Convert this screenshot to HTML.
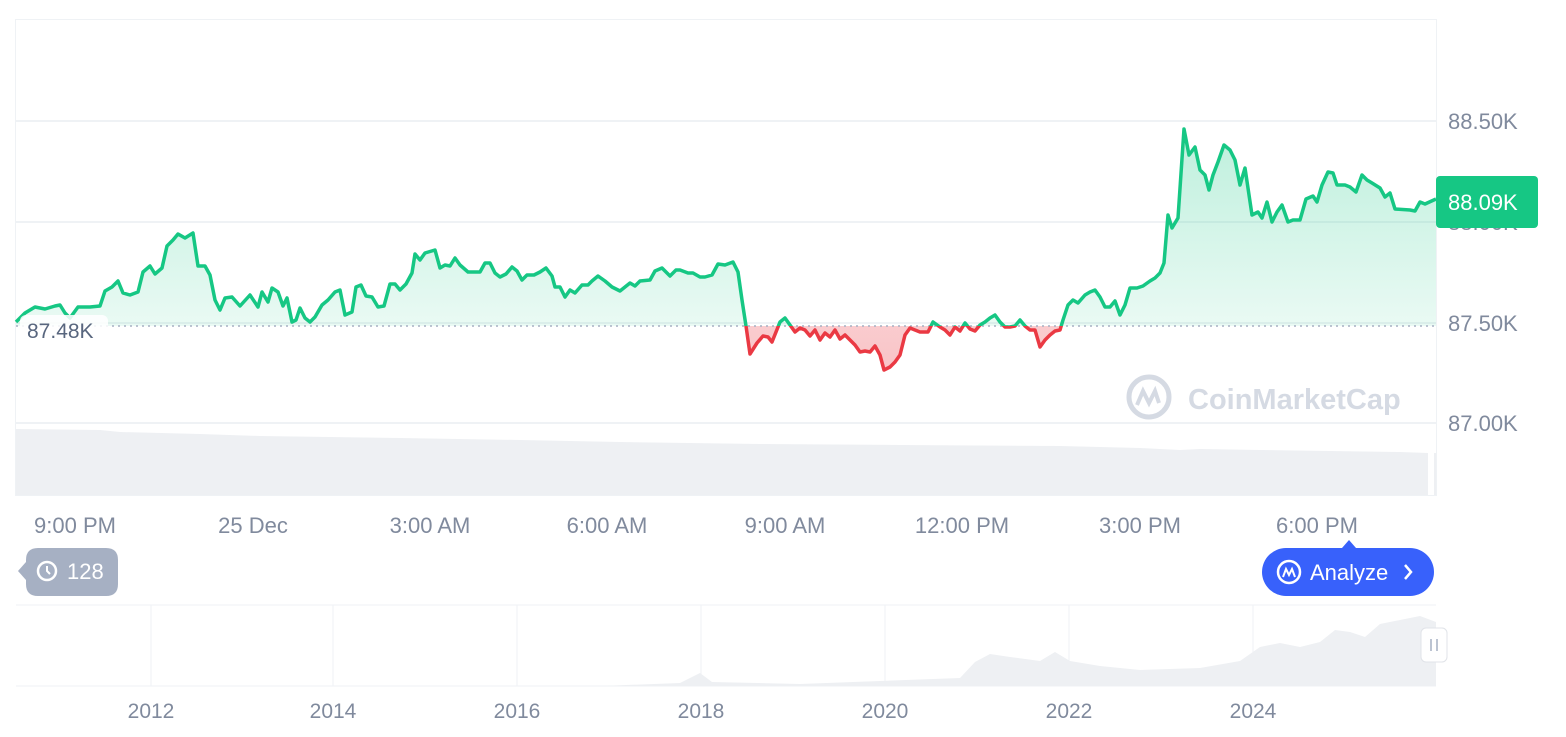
<!DOCTYPE html>
<html><head><meta charset="utf-8"><style>
body{margin:0;background:#fff;width:1566px;height:732px;overflow:hidden;font-family:"Liberation Sans",sans-serif}
</style></head><body>
<svg width="1566" height="732" xmlns="http://www.w3.org/2000/svg" font-family="Liberation Sans, sans-serif">
<defs>
<linearGradient id="gg" x1="0" y1="0" x2="0" y2="1"><stop offset="0" stop-color="#16c784" stop-opacity="0.28"/><stop offset="1" stop-color="#16c784" stop-opacity="0.05"/></linearGradient>
<linearGradient id="rg" x1="0" y1="0" x2="0" y2="1"><stop offset="0" stop-color="#ea3943" stop-opacity="0.08"/><stop offset="1" stop-color="#ea3943" stop-opacity="0.3"/></linearGradient>
<clipPath id="up"><rect x="0" y="0" width="1440" height="326"/></clipPath>
<clipPath id="dn"><rect x="0" y="326" width="1440" height="200"/></clipPath>
<path id="p" d="M16,322 L25,313 35,307 45,309 55,306 60,305 65,313 70,318 78,307 90,307 100,306 105,291 112,287 118,281 123,293 130,295 138,292 143,272 150,266 155,274 162,268 167,246 173,240 178,234 185,238 193,233 198,266 205,266 210,275 215,300 220,310 225,298 232,297 240,306 250,295 258,307 262,292 268,302 272,288 278,292 283,306 287,298 292,322 296,320 300,308 305,318 310,322 315,317 322,305 328,300 335,292 340,290 345,315 352,312 356,287 361,285 366,296 372,297 378,307 384,306 390,284 395,284 400,290 406,284 412,273 415,254 420,260 425,253 435,250 440,268 445,265 450,266 455,258 460,265 468,272 480,272 485,263 490,263 495,273 500,277 506,274 512,267 517,271 522,280 527,275 534,275 540,272 546,268 552,276 555,287 560,287 565,297 570,290 575,293 582,285 588,285 592,281 598,276 605,281 612,287 620,291 630,283 635,286 640,281 650,280 655,271 662,268 670,276 676,270 680,270 688,273 693,273 700,277 705,277 712,275 718,264 725,265 733,262 738,272 742,300 746,326 750,354 757,343 763,336 768,337 772,342 780,322 785,318 790,325 795,332 800,328 805,330 810,336 815,330 820,340 825,333 830,337 835,330 840,339 845,335 850,340 855,345 860,352 865,351 870,352 875,346 880,355 884,370 890,367 895,362 900,355 905,335 910,328 920,332 928,332 933,322 940,327 945,330 950,335 955,327 960,331 965,323 970,329 975,331 980,325 985,322 990,318 995,315 1000,322 1005,327 1010,327 1015,326 1020,320 1025,326 1030,330 1035,330 1040,347 1045,340 1050,335 1055,331 1060,330 1063,320 1068,305 1073,300 1078,303 1085,295 1090,292 1095,290 1100,297 1105,307 1110,307 1115,301 1120,315 1125,305 1130,288 1137,288 1143,286 1150,281 1155,278 1160,273 1164,263 1168,215 1172,228 1178,218 1184,129 1189,155 1195,147 1200,170 1205,175 1209,190 1213,175 1218,162 1224,145 1230,150 1235,160 1240,185 1245,168 1252,215 1258,212 1262,218 1267,202 1272,222 1277,212 1282,205 1288,222 1293,220 1300,220 1306,199 1313,196 1317,202 1322,185 1328,172 1333,173 1337,185 1345,185 1350,187 1356,192 1362,175 1367,180 1372,183 1380,188 1385,197 1390,193 1395,209 1410,210 1415,211 1420,202 1425,204 1436,199"/>
<path id="f" d="M16,322 L25,313 35,307 45,309 55,306 60,305 65,313 70,318 78,307 90,307 100,306 105,291 112,287 118,281 123,293 130,295 138,292 143,272 150,266 155,274 162,268 167,246 173,240 178,234 185,238 193,233 198,266 205,266 210,275 215,300 220,310 225,298 232,297 240,306 250,295 258,307 262,292 268,302 272,288 278,292 283,306 287,298 292,322 296,320 300,308 305,318 310,322 315,317 322,305 328,300 335,292 340,290 345,315 352,312 356,287 361,285 366,296 372,297 378,307 384,306 390,284 395,284 400,290 406,284 412,273 415,254 420,260 425,253 435,250 440,268 445,265 450,266 455,258 460,265 468,272 480,272 485,263 490,263 495,273 500,277 506,274 512,267 517,271 522,280 527,275 534,275 540,272 546,268 552,276 555,287 560,287 565,297 570,290 575,293 582,285 588,285 592,281 598,276 605,281 612,287 620,291 630,283 635,286 640,281 650,280 655,271 662,268 670,276 676,270 680,270 688,273 693,273 700,277 705,277 712,275 718,264 725,265 733,262 738,272 742,300 746,326 750,354 757,343 763,336 768,337 772,342 780,322 785,318 790,325 795,332 800,328 805,330 810,336 815,330 820,340 825,333 830,337 835,330 840,339 845,335 850,340 855,345 860,352 865,351 870,352 875,346 880,355 884,370 890,367 895,362 900,355 905,335 910,328 920,332 928,332 933,322 940,327 945,330 950,335 955,327 960,331 965,323 970,329 975,331 980,325 985,322 990,318 995,315 1000,322 1005,327 1010,327 1015,326 1020,320 1025,326 1030,330 1035,330 1040,347 1045,340 1050,335 1055,331 1060,330 1063,320 1068,305 1073,300 1078,303 1085,295 1090,292 1095,290 1100,297 1105,307 1110,307 1115,301 1120,315 1125,305 1130,288 1137,288 1143,286 1150,281 1155,278 1160,273 1164,263 1168,215 1172,228 1178,218 1184,129 1189,155 1195,147 1200,170 1205,175 1209,190 1213,175 1218,162 1224,145 1230,150 1235,160 1240,185 1245,168 1252,215 1258,212 1262,218 1267,202 1272,222 1277,212 1282,205 1288,222 1293,220 1300,220 1306,199 1313,196 1317,202 1322,185 1328,172 1333,173 1337,185 1345,185 1350,187 1356,192 1362,175 1367,180 1372,183 1380,188 1385,197 1390,193 1395,209 1410,210 1415,211 1420,202 1425,204 1436,199 L1436,326 L16,326 Z"/>
</defs>
<rect x="15.5" y="19.5" width="1421" height="476" fill="none" stroke="#eff2f5"/>
<g stroke="#eff2f5" stroke-width="2">
<line x1="16" y1="121" x2="1436" y2="121"/><line x1="16" y1="222" x2="1436" y2="222"/><line x1="16" y1="323" x2="1436" y2="323"/><line x1="16" y1="423" x2="1436" y2="423"/>
</g>
<polygon points="16,495 16,429 100,430 120,432 200,434 260,436 400,438 520,440 620,442 760,444 900,445 1060,446 1140,448 1180,450 1200,449 1260,450 1400,452 1428,453 1428,495" fill="#eef0f3"/>
<rect x="1434" y="453" width="2" height="42" fill="#eef0f3"/>
<g>
<circle cx="1149" cy="397" r="20" fill="none" stroke="#d5dae3" stroke-width="5"/>
<path d="M1137,405 l6,-14 l6,12 l6,-12 l4,12" fill="none" stroke="#d5dae3" stroke-width="4"/>
<text x="1188" y="409" font-size="29" font-weight="bold" fill="#d5dae3">CoinMarketCap</text>
</g>
<use href="#f" fill="url(#gg)" clip-path="url(#up)"/>
<use href="#f" fill="url(#rg)" clip-path="url(#dn)"/>
<line x1="16" y1="326" x2="1436" y2="326" stroke="#a6b0c3" stroke-width="1.5" stroke-dasharray="2,4"/>
<use href="#p" fill="none" stroke="#16c784" stroke-width="3.5" stroke-linejoin="round" clip-path="url(#up)"/>
<use href="#p" fill="none" stroke="#ea3943" stroke-width="3.5" stroke-linejoin="round" clip-path="url(#dn)"/>
<rect x="20" y="315" width="88" height="28" rx="6" fill="#fff" opacity="0.85"/>
<text x="27" y="338" font-size="21" fill="#58667e">87.48K</text>
<g font-size="22" fill="#808a9d">
<text x="1448" y="129">88.50K</text><text x="1448" y="230">88.00K</text><text x="1448" y="331">87.50K</text><text x="1448" y="431">87.00K</text>
</g>
<rect x="1436" y="176" width="102" height="52" rx="4" fill="#16c784"/>
<text x="1448" y="210" font-size="22" fill="#fff">88.09K</text>
<g font-size="22" fill="#808a9d" text-anchor="middle">
<text x="75" y="533">9:00 PM</text><text x="253" y="533">25 Dec</text><text x="430" y="533">3:00 AM</text><text x="607" y="533">6:00 AM</text><text x="785" y="533">9:00 AM</text><text x="962" y="533">12:00 PM</text><text x="1140" y="533">3:00 PM</text><text x="1317" y="533">6:00 PM</text>
</g>
<path d="M18,571 L26,562 L26,560 Q26,548 38,548 L106,548 Q118,548 118,560 L118,584 Q118,596 106,596 L38,596 Q26,596 26,584 L26,580 Z" fill="#a6b0c3"/>
<circle cx="47" cy="571" r="9" fill="none" stroke="#fff" stroke-width="2.5"/>
<path d="M47,566 v5 l3,3" stroke="#fff" stroke-width="2" fill="none"/>
<text x="67" y="579" font-size="22" fill="#fff">128</text>
<path d="M1342,548 L1349,540 L1356,548 Z" fill="#3861fb"/>
<rect x="1262" y="548" width="172" height="48" rx="24" fill="#3861fb"/>
<circle cx="1289" cy="572" r="11" fill="none" stroke="#fff" stroke-width="2.5"/>
<path d="M1283,577 l3,-8 l3,6 l3,-6 l3,8" stroke="#fff" stroke-width="2" fill="none"/>
<text x="1310" y="580" font-size="22" fill="#fff">Analyze</text>
<path d="M1405,565 l6,7 l-6,7" stroke="#fff" stroke-width="2.5" fill="none"/>
<line x1="16" y1="605" x2="1436" y2="605" stroke="#eff2f5"/>
<line x1="16" y1="686" x2="1436" y2="686" stroke="#eff2f5"/>
<g stroke="#eff2f5"><line x1="151" y1="605" x2="151" y2="686"/><line x1="333" y1="605" x2="333" y2="686"/><line x1="517" y1="605" x2="517" y2="686"/><line x1="701" y1="605" x2="701" y2="686"/><line x1="885" y1="605" x2="885" y2="686"/><line x1="1069" y1="605" x2="1069" y2="686"/><line x1="1253" y1="605" x2="1253" y2="686"/></g>
<polygon points="16,686 600,686 680,683 700,673 712,682 800,684 880,681 960,678 975,662 990,654 1010,657 1040,661 1055,652 1070,661 1100,666 1140,670 1200,668 1240,661 1260,647 1280,643 1300,647 1320,642 1335,630 1350,632 1365,637 1380,624 1400,620 1420,616 1436,622 1436,686" fill="#eef0f3"/>
<rect x="1421" y="628" width="26" height="34" rx="5" fill="#fff" stroke="#e0e3e8"/>
<line x1="1431" y1="639" x2="1431" y2="651" stroke="#a6b0c3" stroke-width="1.5"/><line x1="1437" y1="639" x2="1437" y2="651" stroke="#a6b0c3" stroke-width="1.5"/>
<g font-size="21" fill="#808a9d" text-anchor="middle">
<text x="151" y="718">2012</text><text x="333" y="718">2014</text><text x="517" y="718">2016</text><text x="701" y="718">2018</text><text x="885" y="718">2020</text><text x="1069" y="718">2022</text><text x="1253" y="718">2024</text>
</g>
</svg>
</body></html>
